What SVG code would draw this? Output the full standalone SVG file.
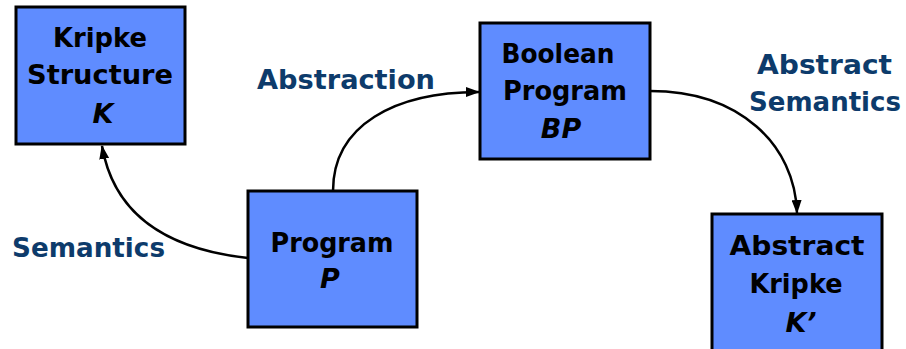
<svg xmlns="http://www.w3.org/2000/svg" width="906" height="349" viewBox="0 0 906 349">
  <defs>
    <marker id="arrow" viewBox="0 0 14 10" refX="13" refY="5" markerWidth="14" markerHeight="10" markerUnits="userSpaceOnUse" orient="auto">
      <path d="M0,0 L14,5 L0,10 Z" fill="#000"/>
    </marker>
    <style>
      .box { fill: #5f8cff; stroke: #000; stroke-width: 3; }
      .t { font-family: "DejaVu Sans", "Liberation Sans", sans-serif; font-weight: bold; font-size: 27px; fill: #000; text-anchor: middle; }
      .i { font-style: italic; }
      .lbl { font-family: "DejaVu Sans", "Liberation Sans", sans-serif; font-weight: bold; font-size: 27px; fill: #0d3b6b; }
      .edge { fill: none; stroke: #000; stroke-width: 2.5; marker-end: url(#arrow); }
    </style>
  </defs>

  <!-- connectors -->
  <g id="connectors">
    <path class="edge" d="M248,258 Q119,244 102,146"/>
    <path class="edge" d="M333,191 C333,125 395,92 479,92"/>
    <path class="edge" d="M650,91 C740,91 795,145 797,213"/>
  </g>

  <!-- edge labels -->
  <g id="labels">
    <text class="lbl" x="12" y="257" textLength="153" lengthAdjust="spacingAndGlyphs">Semantics</text>
    <text class="lbl" x="257" y="89" textLength="178" lengthAdjust="spacingAndGlyphs">Abstraction</text>
    <text class="lbl" x="757" y="74" textLength="135" lengthAdjust="spacingAndGlyphs">Abstract</text>
    <text class="lbl" x="749" y="111" textLength="152" lengthAdjust="spacingAndGlyphs">Semantics</text>
  </g>

  <!-- nodes -->
  <g id="kripke">
    <rect class="box" x="16" y="7" width="169" height="137"/>
    <text class="t" x="100" y="47" textLength="94" lengthAdjust="spacingAndGlyphs">Kripke</text>
    <text class="t" x="100" y="84" textLength="146" lengthAdjust="spacingAndGlyphs">Structure</text>
    <text class="t i" x="103" y="123">K</text>
  </g>

  <g id="program">
    <rect class="box" x="248" y="191" width="169" height="136"/>
    <text class="t" x="332" y="252" textLength="123" lengthAdjust="spacingAndGlyphs">Program</text>
    <text class="t i" x="330" y="288">P</text>
  </g>

  <g id="boolean-program">
    <rect class="box" x="480" y="23" width="170" height="136"/>
    <text class="t" x="558" y="63" textLength="113" lengthAdjust="spacingAndGlyphs">Boolean</text>
    <text class="t" x="565" y="100" textLength="124" lengthAdjust="spacingAndGlyphs">Program</text>
    <text class="t i" x="561" y="138">BP</text>
  </g>

  <g id="abstract-kripke">
    <rect class="box" x="712" y="214" width="170" height="137"/>
    <text class="t" x="797" y="255" textLength="135" lengthAdjust="spacingAndGlyphs">Abstract</text>
    <text class="t" x="796" y="293" textLength="93" lengthAdjust="spacingAndGlyphs">Kripke</text>
    <text class="t i" x="801" y="332">K’</text>
  </g>
</svg>
